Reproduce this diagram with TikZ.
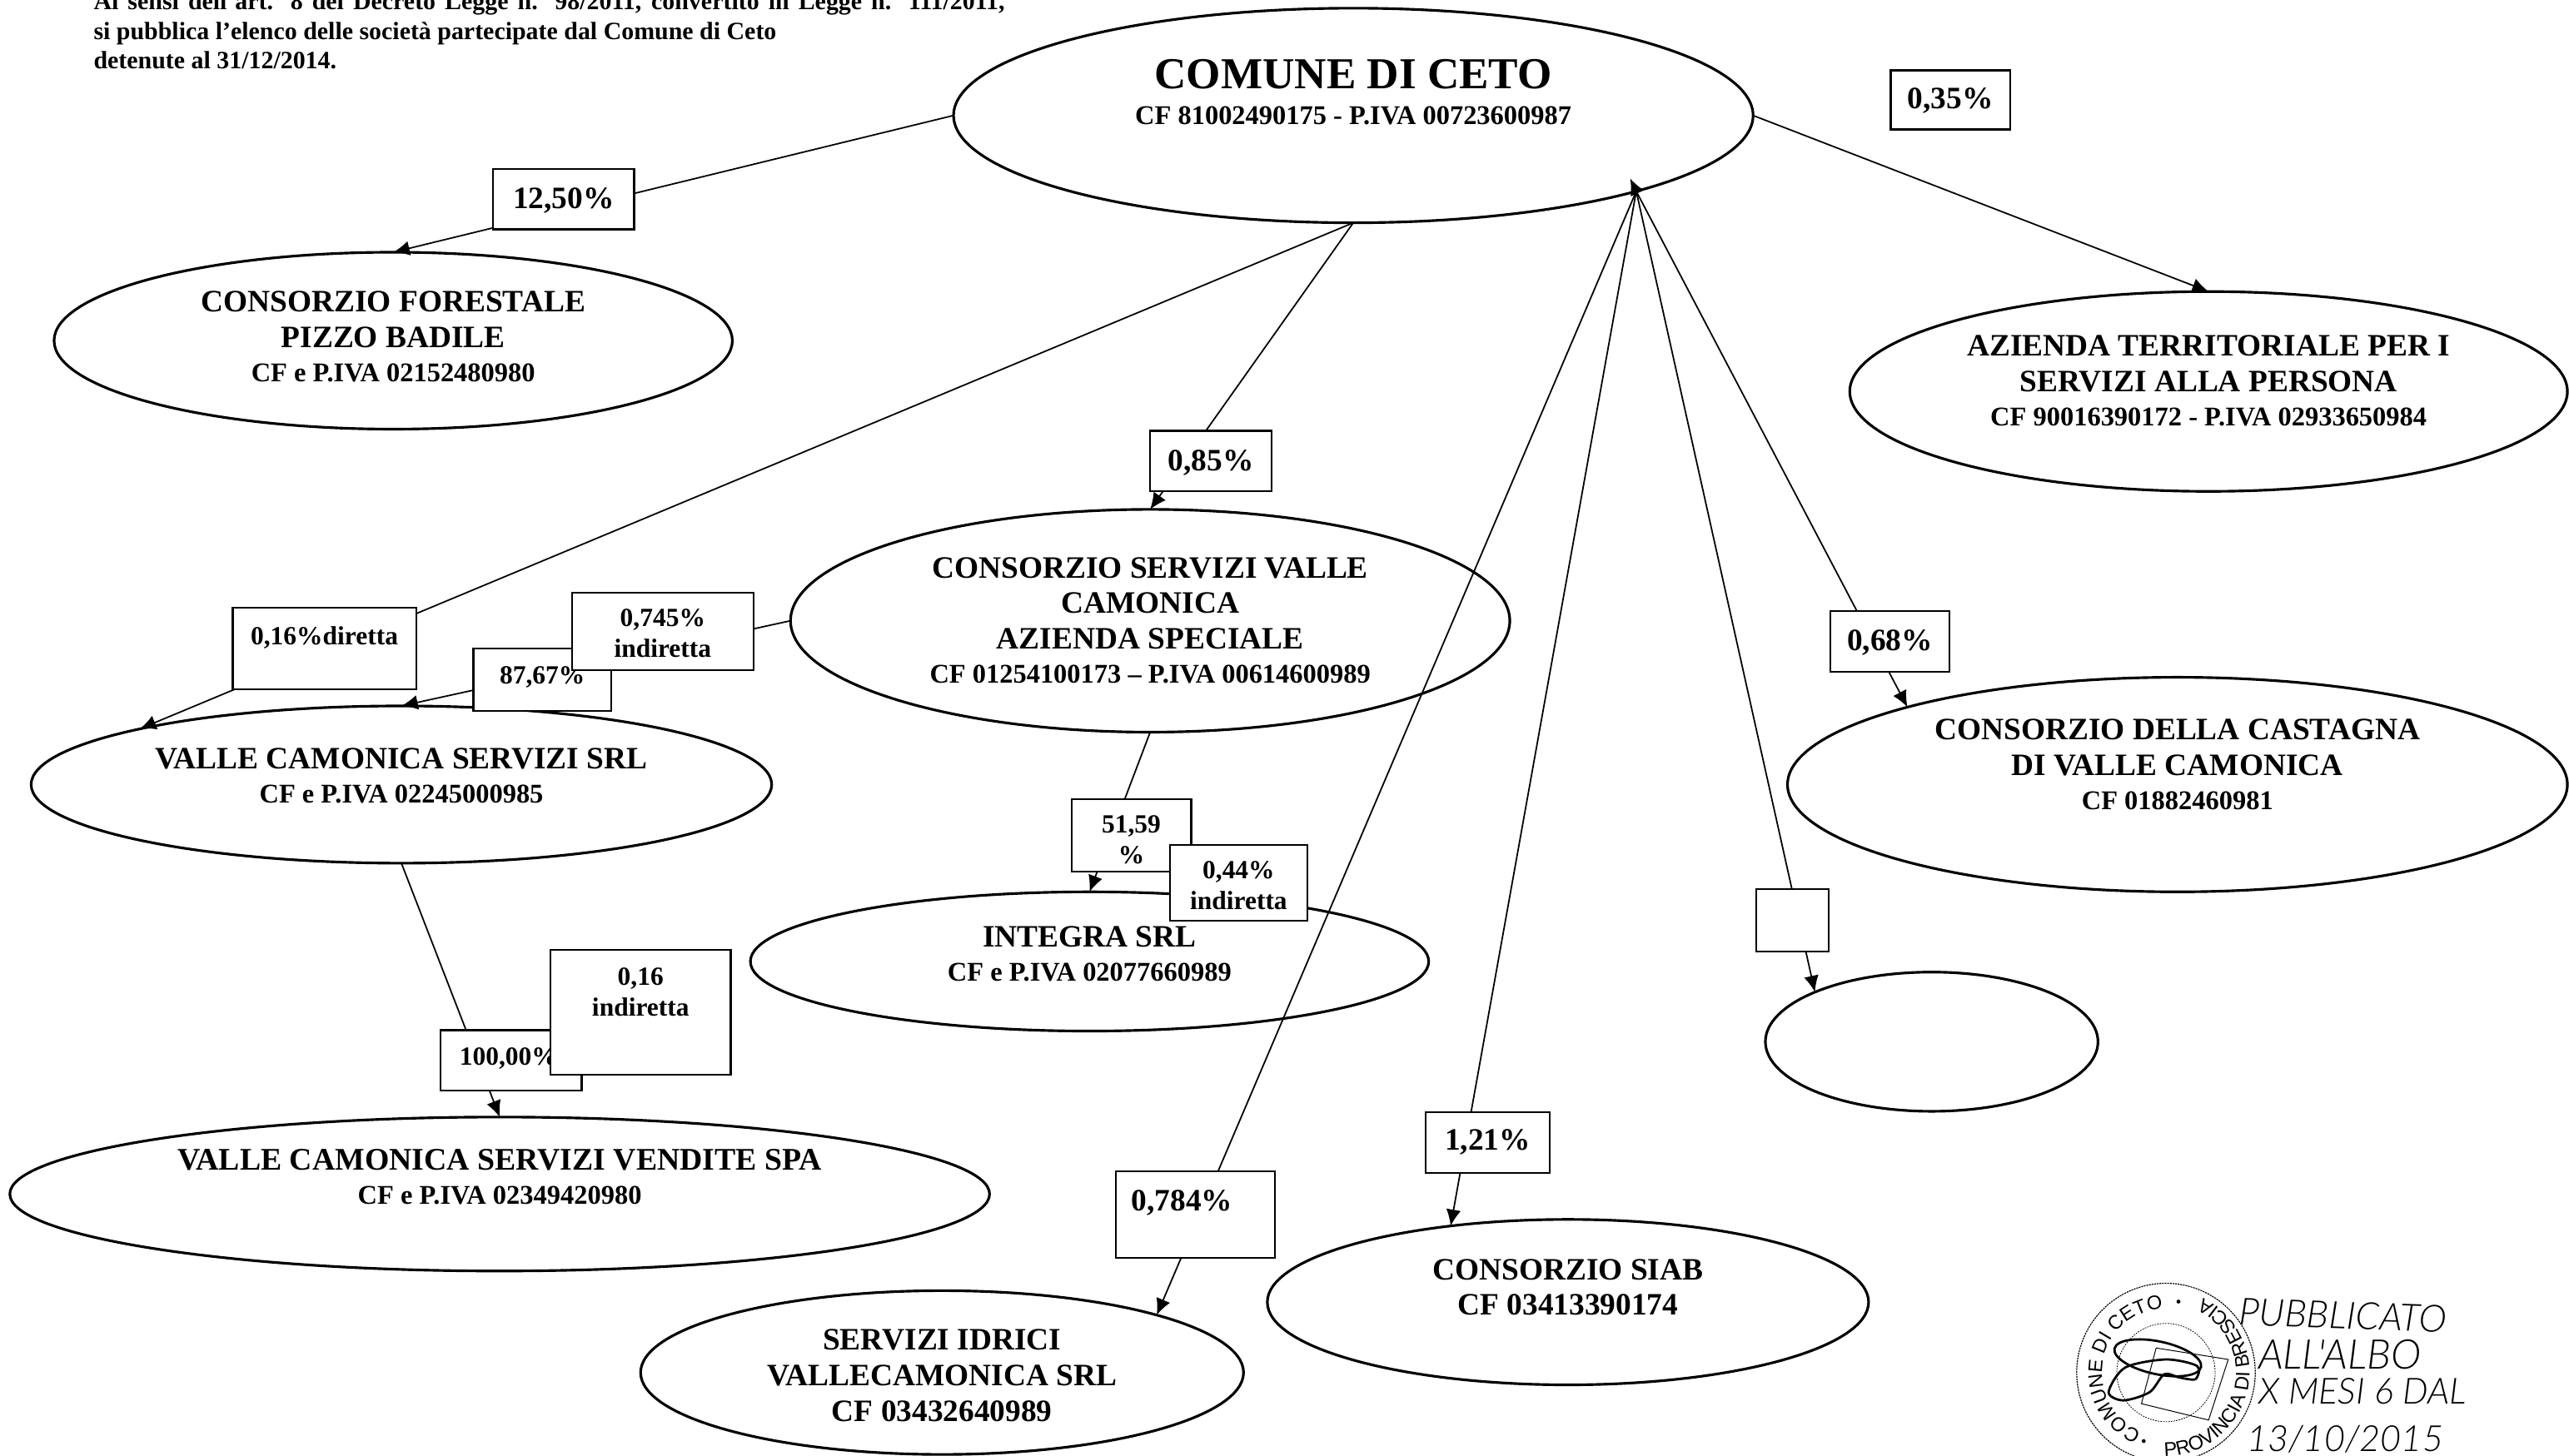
\documentclass[tikz,border=0pt]{standalone}
\usepackage{fontspec}
\setmainfont{Liberation Serif}
\newfontfamily\handfont{Lato Light}
\newfontfamily\stampfont{Liberation Sans}
\usetikzlibrary{shapes.geometric,arrows.meta,backgrounds,decorations.text}
\newcommand{\Main}{\fontsize{19}{21.7}\selectfont\bfseries}
\newcommand{\Sub}{\fontsize{16.5}{20.8}\selectfont\bfseries}
\newcommand{\Tiny}{\fontsize{16}{19}\selectfont\bfseries}
% horizontal shift, raise of the first baseline, content
\newcommand{\placed}[3]{\rlap{\kern#1pt\makebox[0pt]{\raisebox{#2pt}[0pt][0pt]{\parbox[t]{460pt}{\centering #3\par}}}}}
\tikzset{
  x=1pt,y=-1pt,
  oval/.style={draw=black,ellipse,line width=1.6pt,inner sep=0pt,outer sep=0pt},
  tag/.style={draw=black,fill=white,rectangle,line width=1.15pt,inner sep=0pt,outer sep=0pt},
  link/.style={draw=black,line width=0.9pt},
  linka/.style={link,-{Latex[length=10pt,width=9pt]}},
  hw/.style={line width=0.8pt,black},
}
\begin{document}
\begin{tikzpicture}
\useasboundingbox (0,0) rectangle (1568,888.45);
\clip (0,0) rectangle (1568,888.45);

\node[anchor=base west,inner sep=0pt] (intro1) at (57,6) {\fontsize{15.2}{18}\selectfont\bfseries\makebox[556pt][s]{Ai sensi dell'art. 8 del Decreto Legge n. 98/2011, convertito in Legge n. 111/2011,}};
\node[anchor=base west,inner sep=0pt] (intro2) at (57,24) {\fontsize{15.2}{18}\selectfont\bfseries si pubblica l'elenco delle società partecipate dal Comune di Ceto};
\node[anchor=base west,inner sep=0pt] (intro3) at (57,42) {\fontsize{15.2}{18}\selectfont\bfseries detenute al 31/12/2014.};

% ovals
\node[oval,minimum width=488pt,minimum height=131pt] (comune) at (826,70.5) {\placed{0}{16.5}{\fontsize{27}{22}\selectfont\bfseries COMUNE DI CETO\par\fontsize{16.5}{22}\selectfont CF 81002490175 - P.IVA 00723600987}};
\node[oval,minimum width=414pt,minimum height=108pt] (forestale) at (240,208) {\placed{0}{17.7}{\Main CONSORZIO FORESTALE\\PIZZO BADILE\par\Sub CF e P.IVA 02152480980}};
\node[oval,minimum width=438pt,minimum height=122pt] (ats) at (1348,239) {\placed{0}{21.7}{\Main AZIENDA TERRITORIALE PER I\\SERVIZI ALLA PERSONA\par\Sub CF 90016390172 - P.IVA 02933650984}};
\node[oval,minimum width=439pt,minimum height=136pt] (csvc) at (702,379) {\placed{0}{26.2}{\Main CONSORZIO SERVIZI VALLE\\CAMONICA\\AZIENDA SPECIALE\par\Sub CF 01254100173 – P.IVA 00614600989}};
\node[oval,minimum width=452pt,minimum height=96pt] (vcs) at (245,479) {\placed{0}{9.7}{\Main VALLE CAMONICA SERVIZI SRL\par\Sub CF e P.IVA 02245000985}};
\node[oval,minimum width=476pt,minimum height=131pt] (castagna) at (1329,479) {\placed{0}{27.2}{\Main CONSORZIO DELLA CASTAGNA\\DI VALLE CAMONICA\par\Sub CF 01882460981}};
\node[oval,minimum width=414pt,minimum height=85pt] (integra) at (665,587) {\placed{0}{8.7}{\Main INTEGRA SRL\par\Sub CF e P.IVA 02077660989}};
\node[oval,minimum width=203pt,minimum height=85pt] (vuoto) at (1179,636) {};
\node[oval,minimum width=598pt,minimum height=94pt] (vcsv) at (305,729) {\placed{0}{14.7}{\fontsize{19.2}{21.7}\selectfont\bfseries VALLE CAMONICA SERVIZI VENDITE SPA\par\Sub CF e P.IVA 02349420980}};
\node[oval,minimum width=367pt,minimum height=101pt] (siab) at (957,795) {\placed{0}{13.7}{\Main CONSORZIO SIAB\\CF 03413390174}};
\node[oval,minimum width=368pt,minimum height=100pt] (idrici) at (575,838) {\placed{0}{13.7}{\Main SERVIZI IDRICI\\VALLECAMONICA SRL\\CF 03432640989}};

% percentage boxes
\node[tag,minimum width=86pt,minimum height=37pt] (b1250) at (344,121.5) {\placed{0}{-6}{\Main 12,50\%}};
\node[tag,minimum width=73pt,minimum height=36pt] (b035) at (1190.5,61) {\placed{0}{-5.4}{\Main 0,35\%}};
\node[tag,minimum width=74pt,minimum height=37pt] (b085) at (739,281.5) {\placed{0}{-5.9}{\Main 0,85\%}};
\node[tag,minimum width=112pt,minimum height=50pt] (b016d) at (198,396) {\placed{0}{2.6}{\Tiny 0,16\%diretta}};
\node[tag,minimum width=84pt,minimum height=38pt] (b8767) at (331,415) {\placed{0}{-2.4}{\Tiny 87,67\%}};
\node[tag,minimum width=111pt,minimum height=47pt] (b0745) at (404.5,385.5) {\placed{0}{3.1}{\Tiny 0,745\%\\indiretta}};
\node[tag,minimum width=73pt,minimum height=44pt] (b5159) at (690.5,510) {\placed{0}{1.6}{\Tiny 51,59\\\%}};
\node[tag,minimum width=84pt,minimum height=46pt] (b044) at (756,539) {\placed{0}{2.6}{\Tiny 0,44\%\\indiretta}};
\node[tag,minimum width=73pt,minimum height=37pt] (b068) at (1153.5,391.5) {\placed{0}{-5.9}{\Main 0,68\%}};
\node[tag,minimum width=44pt,minimum height=38pt] (bvuoto) at (1094,562) {};
\node[tag,minimum width=86pt,minimum height=37pt] (b100) at (312,647.5) {\placed{-1.5}{-2.9}{\Tiny 100,00\%}};
\node[tag,minimum width=110pt,minimum height=76pt] (b016i) at (391,618) {\placed{0}{16.6}{\Tiny 0,16\\indiretta}};
\node[tag,minimum width=97pt,minimum height=53pt] (b0784) at (729.5,741.5) {\placed{-8}{2.1}{\Main 0,784\%}};
\node[tag,minimum width=76pt,minimum height=37pt] (b121) at (908,697.5) {\placed{0}{-4.9}{\Main 1,21\%}};

% connectors run behind the boxes
\begin{pgfonlayer}{background}
\coordinate (hub) at (comune.-15.1);
\coordinate (hubtip) at (995,109);
\draw[linka] (comune.west) -- (forestale.north);
\draw[linka] (comune.east) -- (ats.north);
\draw[linka] (comune.south) -- (csvc.north);
\draw[linka] (comune.south) -- (vcs.168.2);
\draw[linka] (csvc.west) -- (vcs.north);
\draw[linka] (csvc.south) -- (integra.north);
\draw[linka] (vcs.south) -- (vcsv.north);
\draw[linka] (hub) -- (idrici.15.2);
\draw[linka] (hub) -- (siab.147);
\draw[linka] (hub) -- (castagna.164.5);
\draw[linka] (hub) -- (vuoto.157.2);
\draw[linka] (hub) -- (hubtip);
\end{pgfonlayer}

% stamp
\coordinate (stampc) at (1322,838);
\draw[line width=0.6pt,dash pattern=on 1.1pt off 0.5pt] (stampc) circle[radius=54.5];
\draw[line width=0.4pt,dash pattern=on 0.9pt off 0.7pt] (stampc) circle[radius=30];
\begin{scope}[shift={(stampc)},y=1pt]
\path[decorate,decoration={text along path,text align=center,text={|\fontsize{12}{12}\stampfont|COMUNE DI CETO}}]
  (248:39) arc[start angle=248,end angle=92,radius=39];
\path[decorate,decoration={text along path,text align=center,text={|\fontsize{12}{12}\stampfont|PROVINCIA DI BRESCIA}}]
  (-104:51) arc[start angle=-104,end angle=76,radius=51];
\fill (80:44) circle[radius=1.2];
\fill (252:44) circle[radius=1.2];
\end{scope}
\draw[line width=0.5pt] (1307,857) -- (1316,823) -- (1360,830) -- (1348,867) -- cycle;
\draw[line width=1.4pt,rotate around={-12:(1317,829)}] (1317,829) ellipse[x radius=27,y radius=10];
\draw[line width=1.4pt] plot[smooth cycle] coordinates {(1287,850)(1297,835)(1322,830)(1341,834)(1340,842)(1330,841)(1321,839)(1312,850)(1296,855)};

% handwritten note
\node[hw,anchor=base west,inner sep=0pt,rotate=-2] (hw1) at (1366,809) {\handfont\fontsize{23}{23}\selectfont\itshape PUBBLICATO};
\node[hw,anchor=base west,inner sep=0pt] (hw2) at (1378,836) {\handfont\fontsize{25}{25}\selectfont\itshape ALL'ALBO};
\node[hw,anchor=base west,inner sep=0pt] (hw3) at (1378,857) {\handfont\fontsize{22}{22}\selectfont\itshape X MESI 6 DAL};
\node[hw,anchor=base west,inner sep=0pt] (hw4) at (1371,886) {\handfont\fontsize{22}{22}\selectfont\itshape 13/10/2015};
\end{tikzpicture}
\end{document}
